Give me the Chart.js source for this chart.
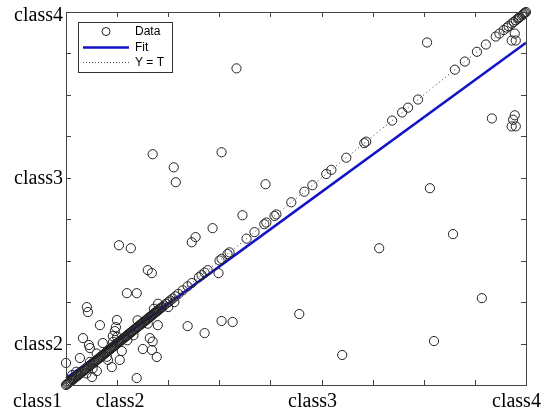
<!DOCTYPE html>
<html>
<head>
<meta charset="utf-8">
<script src="https://cdn.jsdelivr.net/npm/chart.js@4.4.0/dist/chart.umd.min.js"></script>
<style>
  html, body { margin: 0; padding: 0; background: #fff; }
  canvas { display: block; }
</style>
</head>
<body>
<canvas id="regChart" width="541" height="411"></canvas>
<script>
// axis labels (classes) and where they sit on the target/output scale
const xClassLabels = ['class1', 'class2', 'class3', 'class4'];
const xClassValues = [1.75, 2, 3, 4];
const yClassLabels = ['class2', 'class3', 'class4'];
const yClassValues = [2, 3, 4];
const minorTicks = [2, 2.25, 2.5, 2.75, 3, 3.25, 3.5, 3.75];

// samples where output == target (they sit on the Y = T line)
const onLineTargets = [
  1.75, 1.755, 1.76, 1.765, 1.77, 1.775, 1.78, 1.785, 1.79, 1.795, 1.80, 1.805, 1.81, 1.815,
  1.82, 1.825, 1.83, 1.835, 1.84, 1.845, 1.85, 1.855, 1.86, 1.865, 1.87, 1.875, 1.88, 1.885,
  1.89, 1.895, 1.90, 1.905, 1.91, 1.915, 1.92, 1.925, 1.93, 1.935, 1.94, 1.945, 1.95, 1.955,
  1.96, 1.965, 1.97, 1.975, 1.98, 1.985, 1.99, 1.995, 2.0, 2.005, 2.01, 2.015, 2.02, 2.025,
  2.03, 2.035, 2.04, 2.045, 2.05, 2.055, 2.06, 2.065, 2.07, 2.075, 2.08, 2.085, 2.09, 2.095,
  2.10, 2.105, 2.11, 2.115, 2.12, 2.125, 2.13, 2.135, 2.14, 2.145, 2.15, 2.155, 2.16, 2.165,
  2.17, 2.175, 2.18, 2.185, 2.19, 2.195, 2.20, 2.205, 2.21, 2.215, 2.22, 2.23, 2.24, 2.25,
  2.26, 2.272, 2.285, 2.30,
  2.321, 2.345, 2.365, 2.40, 2.413, 2.428, 2.443, 2.501, 2.511, 2.54, 2.55,
  2.633, 2.672, 2.72, 2.73, 2.77, 2.779, 2.852, 2.916, 2.955, 3.023, 3.048, 3.121, 3.209,
  3.218, 3.345, 3.394, 3.423, 3.472, 3.652, 3.701, 3.76, 3.804, 3.852, 3.87, 3.891, 3.906,
  3.915, 3.93, 3.94, 3.95, 3.96, 3.965, 3.97, 3.979, 3.985, 3.99, 3.995, 4.0
];

// misclassified samples
const offTargets = [
  2.584, 3.516, 2.511, 2.174, 2.277, 2.287, 2.726, 2.613, 2.467, 2.384, 2.365, 2.009, 2.067,
  2.15, 2.17, 2.048, 2.096, 3.53, 3.643, 3.282, 3.784, 3.55, 3.101, 2.891, 2.511, 2.565,
  2.345, 2.428, 2.496, 3.833, 3.945, 3.93, 3.95, 3.937, 3.945, 3.95, 3.93,
  1.852, 1.857, 1.916, 1.999, 1.994, 1.833, 1.862, 1.867, 1.93, 1.75, 1.818, 1.867, 1.955,
  1.974, 1.901, 1.877, 2.096, 2.16, 2.174, 2.199, 2.126, 2.17, 2.194, 2.013, 2.023, 1.989,
  1.979,
  1.78, 1.80, 1.85, 1.88, 1.90, 1.95, 1.98, 2.0, 2.05, 2.08, 2.10, 2.15, 2.18, 2.20, 2.25, 2.28
];
const offOutputs = [
  3.66, 3.816, 3.154, 3.142, 3.063, 2.973, 2.961, 2.774, 2.696, 2.642, 2.611, 2.593, 2.575,
  2.443, 2.425, 2.304, 2.304, 2.937, 2.66, 2.575, 2.274, 2.015, 1.931, 2.178, 2.136, 2.13,
  2.105, 2.063, 2.425, 3.358, 3.377, 3.31, 3.31, 3.35, 3.87, 3.828, 3.828,
  2.22, 2.19, 2.111, 2.142, 2.099, 2.033, 1.991, 1.973, 2.003, 1.883, 1.913, 1.889, 1.901,
  1.858, 1.834, 1.798, 1.792, 2.033, 2.012, 2.111, 1.967, 1.961, 1.919, 1.901, 1.955, 2.075,
  2.045,
  1.81, 1.83, 1.82, 1.85, 1.94, 1.92, 2.01, 2.04, 2.02, 2.05, 2.14, 2.12, 2.21, 2.24, 2.22, 2.25
];

// linear fit and identity line
const fitTargets = [1.75, 4];
const fitOutputs = [1.79, 3.815];
const identity = [1.75, 4];

const AXIS_MIN = 1.75;
const AXIS_MAX = 4;

const points = onLineTargets.map(t => ({ x: t, y: t }))
  .concat(offTargets.map((t, i) => ({ x: t, y: offOutputs[i] })));

// MATLAB style box, inward ticks, serif class labels and a legend inside the axes
const framePlugin = {
  id: 'frame',
  afterDraw(chart) {
    const { ctx, chartArea: a, scales } = chart;
    const xs = scales.x, ys = scales.y;
    ctx.save();

    ctx.strokeStyle = '#444';
    ctx.lineWidth = 1;
    ctx.strokeRect(a.left + 0.5, a.top + 0.5, a.right - a.left, a.bottom - a.top);

    ctx.beginPath();
    minorTicks.forEach(v => {
      const px = Math.round(xs.getPixelForValue(v)) + 0.5;
      ctx.moveTo(px, a.bottom); ctx.lineTo(px, a.bottom - 5);
      ctx.moveTo(px, a.top); ctx.lineTo(px, a.top + 5);
      const py = Math.round(ys.getPixelForValue(v)) + 0.5;
      ctx.moveTo(a.left, py); ctx.lineTo(a.left + 5, py);
      ctx.moveTo(a.right, py); ctx.lineTo(a.right - 5, py);
    });
    ctx.stroke();

    ctx.fillStyle = '#000';
    ctx.font = '20px "Liberation Serif", "Times New Roman", serif';
    ctx.textBaseline = 'alphabetic';

    // x labels were nudged by hand in the original figure
    const xShift = [-4, 3, -9, -34];
    const xAlign = ['right', 'center', 'center', 'left'];
    xClassLabels.forEach((lab, i) => {
      ctx.textAlign = xAlign[i];
      ctx.fillText(lab, xs.getPixelForValue(xClassValues[i]) + xShift[i], a.bottom + 22);
    });

    ctx.textAlign = 'right';
    yClassLabels.forEach((lab, i) => {
      const py = Math.max(ys.getPixelForValue(yClassValues[i]) + 6.5, 21);
      ctx.fillText(lab, a.left - 3, py);
    });

    // legend box
    const lx = a.left + 12, ly = a.top + 10, lw = 94, lh = 50;
    ctx.fillStyle = '#fff';
    ctx.fillRect(lx, ly, lw, lh);
    ctx.strokeStyle = '#333';
    ctx.strokeRect(lx + 0.5, ly + 0.5, lw, lh);

    const sx = lx + 5, ex = lx + 51, tx = lx + 57;
    ctx.font = '12px "Liberation Sans", Arial, sans-serif';
    ctx.textAlign = 'left';
    ctx.textBaseline = 'middle';
    ctx.fillStyle = '#000';

    ctx.beginPath();
    ctx.arc((sx + ex) / 2, ly + 9.5, 4, 0, Math.PI * 2);
    ctx.strokeStyle = '#222';
    ctx.stroke();
    ctx.fillText('Data', tx, ly + 10);

    ctx.beginPath();
    ctx.moveTo(sx, ly + 25.5); ctx.lineTo(ex, ly + 25.5);
    ctx.strokeStyle = 'rgb(18, 18, 200)';
    ctx.lineWidth = 2.5;
    ctx.stroke();
    ctx.fillText('Fit', tx, ly + 25.5);

    ctx.beginPath();
    ctx.setLineDash([1, 2]);
    ctx.moveTo(sx, ly + 40.5); ctx.lineTo(ex, ly + 40.5);
    ctx.strokeStyle = '#555';
    ctx.lineWidth = 1;
    ctx.stroke();
    ctx.setLineDash([]);
    ctx.fillText('Y = T', tx, ly + 40.5);

    ctx.restore();
  }
};

new Chart(document.getElementById('regChart'), {
  type: 'scatter',
  data: {
    datasets: [
      {
        label: 'Data',
        data: points,
        showLine: false,
        pointStyle: 'circle',
        pointRadius: 4.6,
        pointBorderWidth: 1,
        pointBorderColor: '#222',
        pointBackgroundColor: 'rgba(0,0,0,0)',
        order: 0
      },
      {
        label: 'Fit',
        data: fitTargets.map((t, i) => ({ x: t, y: fitOutputs[i] })),
        showLine: true,
        borderColor: 'rgb(18, 18, 200)',
        borderWidth: 2.5,
        pointRadius: 0,
        order: 1
      },
      {
        label: 'Y = T',
        data: identity.map(t => ({ x: t, y: t })),
        showLine: true,
        borderColor: '#333',
        borderWidth: 1,
        borderDash: [1, 3],
        pointRadius: 0,
        order: 2
      }
    ]
  },
  options: {
    responsive: false,
    animation: false,
    devicePixelRatio: 1,
    layout: { padding: { left: 66, right: 15, top: 12, bottom: 26 } },
    scales: {
      x: { type: 'linear', min: AXIS_MIN, max: AXIS_MAX, display: false },
      y: { type: 'linear', min: AXIS_MIN, max: AXIS_MAX, display: false }
    },
    plugins: {
      legend: { display: false },
      tooltip: { enabled: false }
    },
    clip: false
  },
  plugins: [framePlugin]
});
</script>
</body>
</html>
